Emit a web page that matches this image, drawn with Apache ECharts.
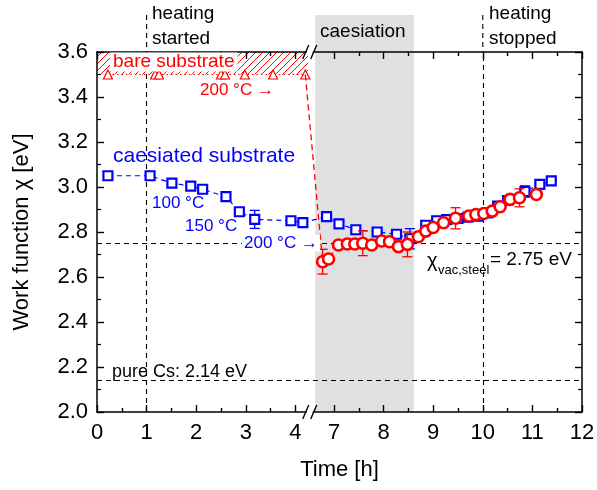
<!DOCTYPE html>
<html><head><meta charset="utf-8">
<script src="https://cdn.jsdelivr.net/npm/echarts@6.0.0/dist/echarts.min.js"></script>
<style>html,body{margin:0;padding:0;background:#fff}#c{width:597px;height:490px}</style>
</head><body><div id="c"></div>
<script>
// ---- data ----
const xTickLabels = [0, 1, 2, 3, 4, 7, 8, 9, 10, 11, 12];
const yTickLabels = [2.0, 2.2, 2.4, 2.6, 2.8, 3.0, 3.2, 3.4, 3.6];
const bareT = [0.22, 1.17, 1.25, 2.50, 2.58, 2.98, 3.55, 4.20];
const bareV = [3.50, 3.50, 3.50, 3.50, 3.50, 3.50, 3.50, 3.50];
const blueT = [0.22, 1.07, 1.51, 1.89, 2.13, 2.60, 2.87, 3.18, 3.91, 4.15, 6.85, 7.10, 7.44, 7.87, 8.26, 8.53, 8.85, 9.07, 9.27, 9.50, 9.70, 9.90, 10.10, 10.30, 10.50, 10.85, 11.15, 11.38];
const blueV = [3.050, 3.050, 3.017, 3.004, 2.990, 2.957, 2.890, 2.856, 2.850, 2.842, 2.868, 2.836, 2.810, 2.800, 2.790, 2.770, 2.830, 2.850, 2.855, 2.860, 2.866, 2.870, 2.885, 2.915, 2.940, 2.980, 3.012, 3.027];
const blueErr = [null, null, null, null, null, null, null, 0.040, null, null, null, null, null, null, null, 0.045, null, null, null, null, null, null, null, null, null, 0.025, null, null];
const redT = [6.77, 6.89, 7.09, 7.27, 7.42, 7.58, 7.76, 7.96, 8.12, 8.30, 8.48, 8.70, 8.85, 9.00, 9.21, 9.45, 9.72, 9.86, 10.02, 10.19, 10.35, 10.55, 10.74, 11.08];
const redV = [2.668, 2.680, 2.742, 2.747, 2.747, 2.750, 2.742, 2.760, 2.757, 2.735, 2.745, 2.779, 2.804, 2.820, 2.841, 2.861, 2.871, 2.878, 2.882, 2.893, 2.912, 2.945, 2.952, 2.967];
const redErr = [0.055, null, null, null, null, 0.055, null, null, null, null, 0.055, null, null, null, null, 0.047, null, null, null, null, null, null, 0.040, null];
const axisBreak = [4.25, 6.55];
const caesiation = [6.62, 8.61];
const heatingOn = 1, heatingOff = 10;
const chiSteel = 2.75, chiCs = 2.14;
const hatchBand = [3.5, 3.6];

const FONT = "'Liberation Sans', Arial, sans-serif";
const BLUE = '#0000ff', RED = '#ff0000';

// half-hour ticks between consecutive labelled hours
const halfTicks = [];
for (let i = 1; i < xTickLabels.length; i++) {
  if (xTickLabels[i] - xTickLabels[i - 1] === 1) halfTicks.push(xTickLabels[i - 1] + 0.5);
}

// hatch pattern
const pc = document.createElement('canvas');
pc.width = 7; pc.height = 7;
const g = pc.getContext('2d');
g.strokeStyle = RED; g.lineWidth = 1;
g.beginPath(); g.moveTo(-1, 8); g.lineTo(8, -1); g.moveTo(-1, 1); g.lineTo(1, -1); g.moveTo(6, 8); g.lineTo(8, 6); g.stroke();

const chart = echarts.init(document.getElementById('c'), null, {renderer: 'canvas'});
const pairs = (T, V) => T.map((t, i) => [t, V[i]]);
const errData = (T, V, E) => T.map((t, i) => E[i] == null ? null : [t, V[i], E[i]]).filter(d => d);

function xAxisCfg(pos, main, ticks, len) {
  return {
    type: 'value', position: pos, min: 0, max: 12,
    breaks: [{start: axisBreak[0], end: axisBreak[1], gap: '0.8%'}],
    breakArea: {show: false},
    axisLine: {show: main, onZero: false, lineStyle: {color: '#000', width: 1.5}},
    axisTick: {show: true, inside: true, length: len, customValues: ticks, lineStyle: {color: '#000', width: 1.4}},
    splitLine: {show: false},
    axisLabel: {show: main && pos === 'bottom', customValues: xTickLabels, margin: 10, color: '#000', fontSize: 22, fontFamily: FONT,
      formatter: v => String(Math.round(v))},
    name: (main && pos === 'bottom') ? 'Time [h]' : '', nameLocation: 'middle', nameGap: 47,
    nameTextStyle: {color: '#000', fontSize: 22, fontFamily: FONT}
  };
}
function yAxisCfg(pos, showLabel) {
  return {
    type: 'value', position: pos, min: 2.0, max: 3.6, interval: 0.2,
    axisLine: {show: true, onZero: false, lineStyle: {color: '#000', width: 1.5}},
    axisTick: {show: true, inside: true, length: 7, lineStyle: {color: '#000', width: 1.4}},
    minorTick: {show: true, splitNumber: 2, length: 4, lineStyle: {color: '#000', width: 1.2}},
    splitLine: {show: false},
    axisLabel: {show: showLabel, margin: 9, color: '#000', fontSize: 22, fontFamily: FONT,
      formatter: v => { const f = yTickLabels.find(t => Math.abs(t - v) < 1e-6); return f == null ? '' : f.toFixed(1); }},
    name: showLabel ? 'Work function \u03c7 [eV]' : '', nameLocation: 'middle', nameGap: 64,
    nameTextStyle: {color: '#000', fontSize: 22, fontFamily: FONT}
  };
}

function errRender(color) {
  return function (params, api) {
    const x = api.value(0), y = api.value(1), e = api.value(2);
    const top = api.coord([x, y + e]), bot = api.coord([x, y - e]);
    const w = 5;
    const st = {stroke: color, lineWidth: 1.3};
    return {type: 'group', children: [
      {type: 'line', shape: {x1: top[0], y1: top[1], x2: bot[0], y2: bot[1]}, style: st},
      {type: 'line', shape: {x1: top[0] - w, y1: top[1], x2: top[0] + w, y2: top[1]}, style: st},
      {type: 'line', shape: {x1: bot[0] - w, y1: bot[1], x2: bot[0] + w, y2: bot[1]}, style: st}
    ]};
  };
}

const integerTicks = xTickLabels.slice();
const option = {
  animation: false,
  backgroundColor: '#fff',
  grid: {left: 97, right: 15, top: 52, bottom: 78, containLabel: false, outerBoundsMode: 'none'},
  xAxis: [
    xAxisCfg('bottom', true, integerTicks, 7),
    xAxisCfg('top', true, integerTicks, 7),
    xAxisCfg('bottom', false, halfTicks, 4),
    xAxisCfg('top', false, halfTicks, 4)
  ],
  yAxis: [yAxisCfg('left', true), yAxisCfg('right', false)],
  series: [
    {
      name: 'bare', type: 'line', z: 2, data: pairs(bareT, bareV),
      symbol: 'triangle', symbolSize: 9,
      itemStyle: {color: '#fff', borderColor: RED, borderWidth: 1.2},
      lineStyle: {color: RED, width: 1.2, type: [1.5, 3]},
      markArea: {silent: true, z: 0, data: [
        [{xAxis: 0, yAxis: hatchBand[0], itemStyle: {color: {image: pc, repeat: 'repeat'}}}, {xAxis: axisBreak[0], yAxis: hatchBand[1]}],
        [{xAxis: caesiation[0], itemStyle: {color: '#e0e0e0'}}, {xAxis: caesiation[1]}]
      ]},
      markLine: {silent: true, symbol: 'none', label: {show: false},
        lineStyle: {color: '#000', type: [5, 4], width: 1.1},
        data: [{xAxis: heatingOn}, {xAxis: heatingOff}, {yAxis: chiSteel}, {yAxis: chiCs}]}
    },
    {
      name: 'link', type: 'line', z: 3, symbol: 'none',
      data: [[bareT[bareT.length - 1], bareV[bareV.length - 1]], [redT[0], redV[0]]],
      lineStyle: {color: RED, width: 1.3, type: [6, 4]}
    },
    {
      name: 'blueErr', type: 'custom', z: 4, data: errData(blueT, blueV, blueErr),
      renderItem: errRender(BLUE)
    },
    {
      name: 'caesiated', type: 'line', z: 5, data: pairs(blueT, blueV),
      symbol: 'rect', symbolSize: 9,
      itemStyle: {color: '#fff', borderColor: BLUE, borderWidth: 2.2},
      lineStyle: {color: BLUE, width: 1.2, type: [5, 4]}
    },
    {
      name: 'redErr', type: 'custom', z: 6, data: errData(redT, redV, redErr),
      renderItem: errRender(RED)
    },
    {
      name: 'steel', type: 'line', z: 7, data: pairs(redT, redV),
      symbol: 'circle', symbolSize: 11,
      itemStyle: {color: '#fff', borderColor: RED, borderWidth: 2.6},
      lineStyle: {color: RED, width: 1, type: [3, 3]}
    }
  ]
};
chart.setOption(option);

// ---- decorations (break marks, extensions above plot, annotations) ----
const px = v => chart.convertToPixel({xAxisIndex: 0}, v);
const py = v => chart.convertToPixel({yAxisIndex: 0}, v);
const yTop = py(3.6), yBot = py(2.0);
const bm = (px(axisBreak[0]) + px(axisBreak[1])) / 2;
const above = 15;
const txt = (text, x, y, color, size, extra) => ({
  type: 'text', x: x, y: y, z: 50,
  style: Object.assign({text: text, fill: color, fontSize: size, fontFamily: FONT, align: 'left', verticalAlign: 'middle'}, extra || {})
});
const graphic = [];
graphic.push({type: 'rect', z: -10, shape: {x: px(caesiation[0]), y: above, width: px(caesiation[1]) - px(caesiation[0]), height: yTop - above}, style: {fill: '#e0e0e0'}});
[heatingOn, heatingOff].forEach(h => graphic.push({type: 'line', z: 10, shape: {x1: px(h), y1: above, x2: px(h), y2: yTop}, style: {stroke: '#000', lineWidth: 1.1, lineDash: [5, 4]}}));
[yTop, yBot].forEach(yy => {
  graphic.push({type: 'rect', z: 60, shape: {x: bm - 3, y: yy - 2, width: 6, height: 4}, style: {fill: '#fff'}});
  graphic.push({type: 'line', z: 61, shape: {x1: bm - 7, y1: yy + 7, x2: bm - 1, y2: yy - 7}, style: {stroke: '#000', lineWidth: 1.4}});
  graphic.push({type: 'line', z: 61, shape: {x1: bm + 1, y1: yy + 7, x2: bm + 7, y2: yy - 7}, style: {stroke: '#000', lineWidth: 1.4}});
});
graphic.push(txt('heating\nstarted', 152, 26, '#000', 19, {lineHeight: 25}));
graphic.push(txt('caesiation', 320, 32, '#000', 19));
graphic.push(txt('heating\nstopped', 489, 26, '#000', 19, {lineHeight: 25}));
graphic.push(txt('bare substrate', 110, 62, RED, 19, {backgroundColor: '#fff', padding: [0, 3, 0, 3]}));
graphic.push(txt('200 \u00b0C \u2192', 200, 90, RED, 17));
graphic.push(txt('caesiated substrate', 113, 156, BLUE, 21));
graphic.push(txt('100 \u00b0C', 152, 203, BLUE, 17));
graphic.push(txt('150 \u00b0C', 185, 226, BLUE, 17));
graphic.push(txt('200 \u00b0C \u2192', 242, 243, BLUE, 17, {backgroundColor: '#fff', padding: [0, 2, 0, 2]}));
graphic.push(txt('\u03c7', 427, 261, '#000', 20));
graphic.push(txt('vac,steel', 438, 270, '#000', 13));
graphic.push(txt('= 2.75 eV', 490, 260, '#000', 19));
graphic.push(txt('pure Cs: 2.14 eV', 112, 372, '#000', 18));
chart.setOption({graphic: graphic});
</script></body></html>
